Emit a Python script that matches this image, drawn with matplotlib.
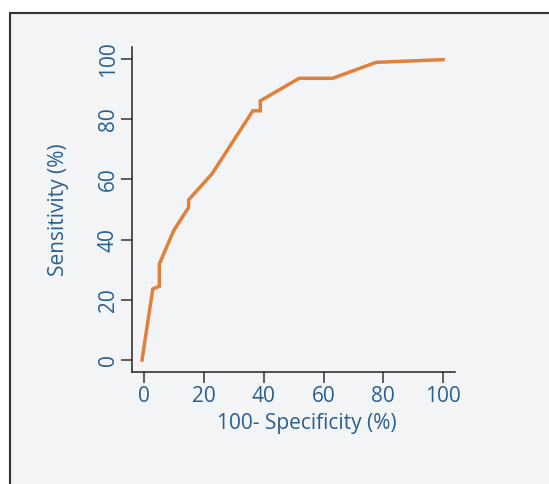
import matplotlib.pyplot as plt
from matplotlib.patches import Rectangle

# ROC curve points
fpr = [-0.8, 2.8, 5.0, 5.0, 9.8, 14.8, 14.8, 22.6, 36.3, 38.8, 38.8, 51.8, 63.0, 77.6, 100.0]
tpr = [0.0, 23.6, 24.5, 31.9, 43.0, 50.7, 53.2, 61.8, 82.8, 82.8, 86.1, 93.6, 93.6, 98.9, 99.8]
ticks = [0, 20, 40, 60, 80, 100]

blue = '#2a5f8f'
panel = '#f3f4f6'
plt.rcParams['font.family'] = ['Open Sans', 'DejaVu Sans']

fig = plt.figure(figsize=(5.49, 4.84), dpi=100)
fig.patch.set_facecolor('white')

# framed panel running off the right and bottom edges
fig.patches.append(Rectangle((0.0175, -0.1), 1.2, 1.074, transform=fig.transFigure,
                             facecolor=panel, edgecolor='#333333', linewidth=1.5,
                             zorder=-10))

ax = fig.add_axes([0.2413, 0.2314, 0.5875, 0.6715])
ax.set_facecolor(panel)
ax.plot(fpr, tpr, color='#e0803a', linewidth=2.5, solid_joinstyle='miter')

ax.set_xlim(-4, 104)
ax.set_ylim(-4, 104)
ax.set_xticks(ticks)
ax.set_yticks(ticks)
ax.set_yticklabels([str(t) for t in ticks], rotation=90, va='center')
for s in ['top', 'right']:
    ax.spines[s].set_visible(False)
for s in ['left', 'bottom']:
    ax.spines[s].set_color('#222222')
    ax.spines[s].set_linewidth(1.1)
ax.tick_params(colors='#333333', labelcolor=blue, labelsize=15, length=8, width=1.1)
ax.tick_params(axis='x', pad=2)
ax.tick_params(axis='y', pad=2)

ax.set_xlabel('100- Specificity (%)', color=blue, fontsize=15)
ax.set_ylabel('Sensitivity (%)', color=blue, fontsize=15)
ax.yaxis.label.set_va('center')
ax.xaxis.set_label_coords(0.5395, -0.127)
ax.yaxis.set_label_coords(-0.228, 0.5)

fig.savefig('out.png', dpi=100)
